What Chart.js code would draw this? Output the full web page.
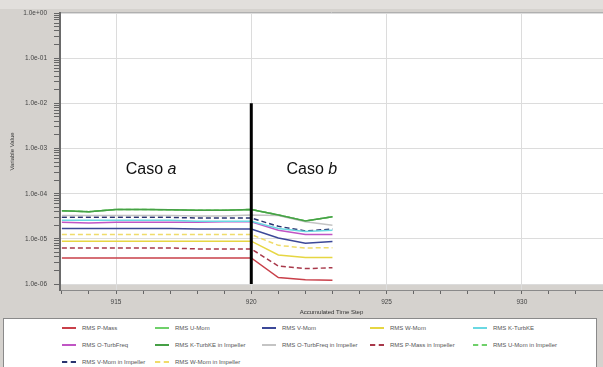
<!DOCTYPE html>
<html>
<head>
<meta charset="utf-8">
<script src="https://cdn.jsdelivr.net/npm/chart.js@4"></script>
<style>
  body { margin: 0; background: #d5d2ce; width: 603px; height: 367px; overflow: hidden; position: relative; font-family: "Liberation Sans", Arial, sans-serif; }
  #wrap { position: absolute; left: 0; top: 0; width: 608px; height: 316px; }
  #legend { position: absolute; left: 3px; top: 318px; width: 594px; height: 60px; background: #fff; border: 1px solid #8a8a8a; box-sizing: border-box; }
  #legend .grid { position: absolute; left: 58px; top: 0; display: grid; grid-template-columns: 93px 107px 108px 103px 120px; grid-auto-rows: 17px; }
  #legend .item { display: flex; align-items: center; font-size: 6px; color: #555; white-space: nowrap; }
  #legend .sw { width: 14px; height: 0; margin-right: 6px; }
</style>
</head>
<body>
<div id="wrap"><canvas id="myChart"></canvas></div>
<div id="legend"><div class="grid" id="legendGrid"></div></div>
<script>
var steps = [913, 914, 915, 916, 917, 918, 919, 920, 921, 922, 923];

var seriesNames = [
  "RMS P-Mass", "RMS U-Mom", "RMS V-Mom", "RMS W-Mom", "RMS K-TurbKE",
  "RMS O-TurbFreq", "RMS K-TurbKE in Impeller", "RMS O-TurbFreq in Impeller",
  "RMS P-Mass in Impeller", "RMS U-Mom in Impeller", "RMS V-Mom in Impeller", "RMS W-Mom in Impeller"
];

var pMass      = [3.8e-6, 3.8e-6, 3.8e-6, 3.8e-6, 3.8e-6, 3.8e-6, 3.8e-6, 3.8e-6, 1.4e-6, 1.25e-6, 1.22e-6];
var uMom       = [4.2e-5, 4.0e-5, 4.5e-5, 4.5e-5, 4.4e-5, 4.3e-5, 4.3e-5, 4.5e-5, 3.4e-5, 2.5e-5, 3.1e-5];
var vMom       = [1.7e-5, 1.7e-5, 1.7e-5, 1.7e-5, 1.7e-5, 1.65e-5, 1.65e-5, 1.65e-5, 1.05e-5, 8.0e-6, 8.8e-6];
var wMom       = [8.9e-6, 8.9e-6, 8.9e-6, 8.9e-6, 8.9e-6, 8.9e-6, 8.9e-6, 8.9e-6, 4.4e-6, 3.9e-6, 3.9e-6];
var kTurb      = [2.6e-5, 2.6e-5, 2.6e-5, 2.6e-5, 2.6e-5, 2.45e-5, 2.45e-5, 2.45e-5, 1.7e-5, 1.45e-5, 1.55e-5];
var oTurb      = [2.35e-5, 2.25e-5, 2.35e-5, 2.35e-5, 2.35e-5, 2.35e-5, 2.4e-5, 2.4e-5, 1.55e-5, 1.25e-5, 1.25e-5];
var kTurbImp   = [4.2e-5, 4.0e-5, 4.5e-5, 4.5e-5, 4.4e-5, 4.3e-5, 4.3e-5, 4.5e-5, 3.4e-5, 2.5e-5, 3.1e-5];
var oTurbImp   = [3.3e-5, 3.3e-5, 3.3e-5, 3.3e-5, 3.3e-5, 3.2e-5, 3.2e-5, 3.4e-5, 3.3e-5, 2.4e-5, 2.0e-5];
var pMassImp   = [6.3e-6, 6.3e-6, 6.3e-6, 6.3e-6, 6.3e-6, 6.0e-6, 6.0e-6, 6.0e-6, 2.5e-6, 2.2e-6, 2.3e-6];
var uMomImp    = [4.2e-5, 4.0e-5, 4.5e-5, 4.5e-5, 4.4e-5, 4.3e-5, 4.3e-5, 4.5e-5, 3.4e-5, 2.5e-5, 3.1e-5];
var vMomImp    = [3.0e-5, 3.0e-5, 3.0e-5, 3.0e-5, 3.0e-5, 2.9e-5, 2.9e-5, 2.9e-5, 1.9e-5, 1.5e-5, 1.65e-5];
var wMomImp    = [1.25e-5, 1.25e-5, 1.25e-5, 1.25e-5, 1.25e-5, 1.25e-5, 1.25e-5, 1.25e-5, 7.2e-6, 6.3e-6, 6.4e-6];

var allValues = [pMass, uMom, vMom, wMom, kTurb, oTurb, kTurbImp, oTurbImp, pMassImp, uMomImp, vMomImp, wMomImp];
var lineColors = ["#c9404a", "#6fd06a", "#3c4898", "#e6d642", "#6ad8e2", "#c055c4",
                  "#46a046", "#c4c4c4", "#a8384a", "#6fd06a", "#2a3470", "#f0dc6a"];
var dashed = [false, false, false, false, false, false, false, false, true, true, true, true];
var drawOrder = [0, 5, 0, 0, 0, 0, -1, 0, 0, 4, 0, 0];

// marker between the two cases
var splitStep = [920, 920];
var splitValue = [1.0e-2, 1.0e-6];

var yTickLabels = ["1.0e+00", "1.0e-01", "1.0e-02", "1.0e-03", "1.0e-04", "1.0e-05", "1.0e-06"];

var datasets = [];
for (var i = 0; i < seriesNames.length; i++) {
  datasets.push({
    label: seriesNames[i],
    data: steps.map(function (s, j) { return {x: s, y: allValues[i][j]}; }),
    borderColor: lineColors[i],
    borderWidth: 1.5,
    borderDash: dashed[i] ? [5, 3] : [],
    pointRadius: 0,
    tension: 0,
    order: drawOrder[i]
  });
}
datasets.push({
  label: "split",
  data: splitStep.map(function (s, j) { return {x: s, y: splitValue[j]}; }),
  borderColor: "#000",
  borderWidth: 3,
  pointRadius: 0,
  order: -5
});

var bgPlugin = {
  id: "bg",
  beforeDraw: function (chart) {
    var c = chart.ctx, a = chart.chartArea;
    var bottomWhite = chart.scales.y.getPixelForValue(1e-6);
    c.save();
    c.fillStyle = "#d5d2ce";
    c.fillRect(0, 0, chart.width, chart.height);
    c.fillStyle = "#e2dfdc";
    c.fillRect(0, 0, chart.width, 9);
    c.fillStyle = "#fff";
    c.fillRect(a.left, a.top - 1, a.right - a.left, bottomWhite - a.top + 1);
    c.strokeStyle = "#b0b0b0";
    c.lineWidth = 1;
    c.beginPath();
    c.moveTo(a.left, a.top - 0.5);
    c.lineTo(a.right, a.top - 0.5);
    c.stroke();
    c.restore();
  }
};

var casePlugin = {
  id: "cases",
  afterDatasetsDraw: function (chart) {
    var c = chart.ctx;
    var xs = chart.scales.x, ys = chart.scales.y;
    var y = ys.getPixelForValue(3.4e-4);
    function draw(step, letter) {
      var x = xs.getPixelForValue(step);
      c.save();
      c.fillStyle = "#111";
      c.textBaseline = "middle";
      c.font = "16px 'Liberation Sans', Arial, sans-serif";
      c.fillText("Caso ", x, y);
      var w = c.measureText("Caso ").width;
      c.font = "italic 16px 'Liberation Sans', Arial, sans-serif";
      c.fillText(letter, x + w, y);
      c.restore();
    }
    draw(915.36, "a");
    draw(921.3, "b");
  }
};

function isDecade(v) {
  var l = Math.log10(v);
  return Math.abs(l - Math.round(l)) < 1e-9;
}

new Chart("myChart", {
  type: "line",
  data: { datasets: datasets },
  plugins: [bgPlugin, casePlugin],
  options: {
    responsive: true,
    maintainAspectRatio: false,
    animation: false,
    layout: { padding: { top: 13, right: 5, left: 0, bottom: 0 } },
    plugins: { legend: { display: false }, tooltip: { enabled: false } },
    scales: {
      x: {
        type: "linear",
        min: 912.93,
        max: 933,
        afterFit: function (s) { s.height = 26; },
        ticks: {
          stepSize: 1,
          autoSkip: false,
          maxRotation: 0,
          padding: 4,
          color: "#444",
          font: { size: 6.5, family: "Liberation Sans" },
          callback: function (v) { return Math.abs(v % 5) < 1e-6 ? String(Math.round(v)) : ""; }
        },
        afterBuildTicks: function (s) {
          var t = [];
          for (var v = 913; v <= 933; v++) t.push({ value: v });
          s.ticks = t;
        },
        grid: {
          color: function (ctx) { return ctx.tick && ctx.tick.value % 5 === 0 ? "#dcdcdc" : "rgba(0,0,0,0)"; },
          tickColor: "#666",
          tickLength: 4
        },
        border: { color: "#8a8a8a", width: 1 },
        title: { display: true, text: "Accumulated Time Step", color: "#333", font: { size: 6, family: "Liberation Sans" }, padding: 0 }
      },
      y: {
        type: "logarithmic",
        min: 7.4e-7,
        max: 1,
        afterFit: function (s) { s.width = 60; },
        afterBuildTicks: function (s) {
          var t = [];
          for (var e = -6; e <= 0; e++) {
            for (var m = 1; m <= 9; m++) {
              var v = m * Math.pow(10, e);
              if (v <= 1) t.push({ value: v });
            }
          }
          s.ticks = t;
        },
        ticks: {
          autoSkip: false,
          padding: 7,
          color: "#444",
          font: { size: 6.5, family: "Liberation Sans" },
          callback: function (v) {
            if (!isDecade(v)) return "";
            return yTickLabels[-Math.round(Math.log10(v))];
          }
        },
        grid: {
          color: function (ctx) { return ctx.tick && isDecade(ctx.tick.value) ? "#dcdcdc" : "rgba(0,0,0,0)"; },
          tickColor: "#666",
          tickLength: 6
        },
        border: { color: "#6a6a6a", width: 2 },
        title: { display: true, text: "Variable Value", color: "#333", font: { size: 6, family: "Liberation Sans" }, padding: 9 }
      }
    }
  }
});

// legend box built from the same series
var grid = document.getElementById("legendGrid");
for (var k = 0; k < seriesNames.length; k++) {
  var item = document.createElement("div");
  item.className = "item";
  var sw = document.createElement("span");
  sw.className = "sw";
  sw.style.borderTop = "2px " + (dashed[k] ? "dashed " : "solid ") + lineColors[k];
  item.appendChild(sw);
  item.appendChild(document.createTextNode(seriesNames[k]));
  grid.appendChild(item);
}
</script>
</body>
</html>
